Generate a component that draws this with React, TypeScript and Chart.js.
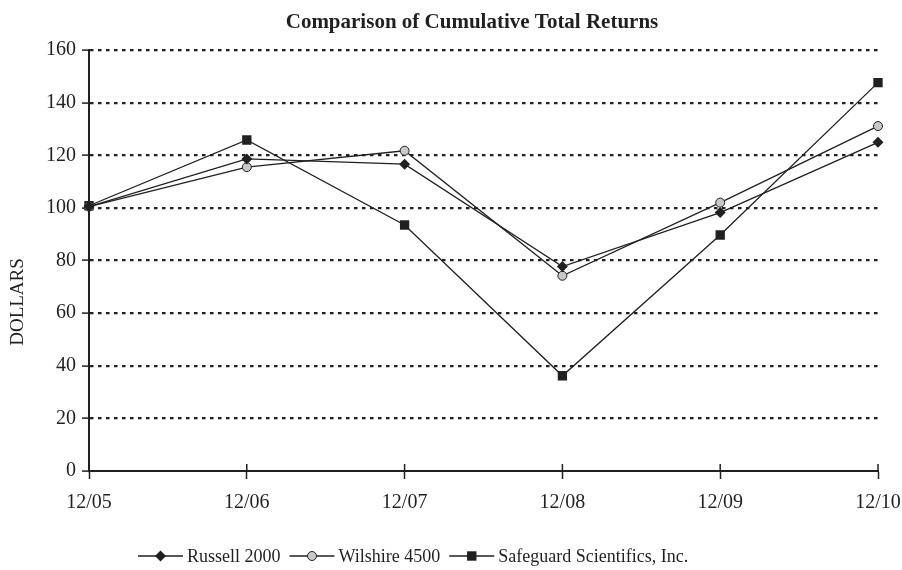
import React, { useEffect, useRef } from "react";
import { Chart, registerables } from "chart.js";

Chart.register(...registerables);

const TITLE = "Comparison of Cumulative Total Returns";
const Y_LABEL = "DOLLARS";
const CATEGORIES = ["12/05", "12/06", "12/07", "12/08", "12/09", "12/10"];
const RUSSELL = [100.5, 118.6, 116.6, 77.7, 98.2, 124.9];
const WILSHIRE = [100.5, 115.5, 121.7, 74.2, 102.0, 131.1];
const SAFEGUARD = [100.8, 125.8, 93.5, 36.2, 89.7, 147.6];
const SERIES_NAMES = ["Russell 2000", "Wilshire 4500", "Safeguard Scientifics, Inc."];
const Y_MIN = 0;
const Y_MAX = 160;
const Y_STEP = 20;

const FONT = '"Liberation Serif", "Times New Roman", serif';
const INK = "#231f20";

function drawMarker(ctx: CanvasRenderingContext2D, style: string, x: number, y: number, fill: string) {
  ctx.save();
  ctx.fillStyle = fill;
  ctx.strokeStyle = INK;
  ctx.lineWidth = 1;
  ctx.beginPath();
  if (style === "rectRot") {
    const r = 5.5;
    ctx.moveTo(x, y - r);
    ctx.lineTo(x + r, y);
    ctx.lineTo(x, y + r);
    ctx.lineTo(x - r, y);
    ctx.closePath();
    ctx.fill();
  } else if (style === "circle") {
    ctx.arc(x, y, 4.5, 0, Math.PI * 2);
    ctx.fill();
    ctx.stroke();
  } else {
    const h = 4.7;
    ctx.rect(x - h, y - h, 2 * h, 2 * h);
    ctx.fill();
  }
  ctx.restore();
}

const decorPlugin = {
  id: "decor",
  afterDraw(chart: any) {
    const ctx: CanvasRenderingContext2D = chart.ctx;
    const area = chart.chartArea;
    const xs = chart.scales.x;
    // upward tick marks on x axis
    ctx.save();
    ctx.strokeStyle = INK;
    ctx.lineWidth = 1.5;
    for (let i = 0; i < CATEGORIES.length; i++) {
      const px = xs.getPixelForTick(i);
      ctx.beginPath();
      ctx.moveTo(px, area.bottom - 7);
      ctx.lineTo(px, area.bottom);
      ctx.stroke();
    }
    ctx.restore();

    // title
    ctx.save();
    ctx.fillStyle = INK;
    ctx.font = `bold 21px ${FONT}`;
    ctx.textAlign = "center";
    ctx.textBaseline = "alphabetic";
    ctx.fillText(TITLE, 472, 28);
    ctx.restore();

    // y label
    ctx.save();
    ctx.fillStyle = INK;
    ctx.font = `19px ${FONT}`;
    ctx.translate(18, 302);
    ctx.rotate(-Math.PI / 2);
    ctx.textAlign = "center";
    ctx.textBaseline = "middle";
    ctx.fillText(Y_LABEL, 0, 0);
    ctx.restore();

    // legend
    ctx.save();
    ctx.font = `18px ${FONT}`;
    ctx.textBaseline = "middle";
    ctx.fillStyle = INK;
    const ly = 556;
    const lineLen = 45;
    let x = 138;
    chart.data.datasets.forEach((ds: any) => {
      ctx.strokeStyle = INK;
      ctx.lineWidth = 1.3;
      ctx.beginPath();
      ctx.moveTo(x, ly);
      ctx.lineTo(x + lineLen, ly);
      ctx.stroke();
      drawMarker(ctx, ds.pointStyle, x + lineLen / 2, ly, ds.pointBackgroundColor);
      x += lineLen + 4;
      ctx.fillStyle = INK;
      ctx.fillText(ds.label, x, ly + 1);
      x += ctx.measureText(ds.label).width + 9;
    });
    ctx.restore();
  },
};

export default function App() {
  const ref = useRef<HTMLCanvasElement | null>(null);
  useEffect(() => {
    if (!ref.current) return;
    const mk = (label: string, data: number[], style: string, fill: string, radius: number) => ({
      label,
      data,
      borderColor: INK,
      borderWidth: 1.3,
      pointStyle: style,
      pointRadius: radius,
      pointBackgroundColor: fill,
      pointBorderColor: INK,
      pointBorderWidth: style === "circle" ? 1 : 0,
      tension: 0,
    });
    const chart = new Chart(ref.current, {
      type: "line",
      data: {
        labels: CATEGORIES,
        datasets: [
          mk(SERIES_NAMES[0], RUSSELL, "rectRot", INK, 5.5),
          mk(SERIES_NAMES[1], WILSHIRE, "circle", "#c8c8c8", 4.5),
          mk(SERIES_NAMES[2], SAFEGUARD, "rect", INK, 6.6),
        ],
      },
      options: {
        animation: false,
        responsive: false,
        maintainAspectRatio: false,
        layout: { padding: { top: 50, right: 24, left: 0, bottom: 0 } },
        plugins: { legend: { display: false }, title: { display: false }, tooltip: { enabled: false } },
        scales: {
          x: {
            offset: false,
            afterFit: (s: any) => { s.height = 99; s.paddingLeft = 0; s.paddingRight = 0; },
            grid: { display: true, drawOnChartArea: false, drawTicks: true, tickLength: 8, tickColor: INK, tickWidth: 1.5 },
            border: { display: true, color: INK, width: 2 },
            ticks: { color: INK, font: { family: FONT, size: 20 }, padding: 12, maxRotation: 0 },
          },
          y: {
            min: Y_MIN,
            max: Y_MAX,
            afterFit: (s: any) => { s.width = 89; s.paddingTop = 0; s.paddingBottom = 0; },
            grid: {
              display: true,
              drawOnChartArea: true,
              color: (c: any) => (c.tick && c.tick.value === 0 ? "rgba(0,0,0,0)" : INK),
              lineWidth: 2.2,
              drawTicks: true,
              tickLength: 7,
              tickColor: INK,
              tickWidth: 1.5,
            },
            border: { display: true, color: INK, width: 2, dash: [3.5, 4.5] },
            ticks: { stepSize: Y_STEP, color: INK, font: { family: FONT, size: 20 }, padding: 6 },
          },
        },
      },
      plugins: [decorPlugin],
    });
    return () => chart.destroy();
  }, []);
  return (
    <div style={{ position: "fixed", left: 0, top: 0, width: 902, height: 570, background: "#fff" }}>
      <canvas ref={ref} width={902} height={570} style={{ width: 902, height: 570 }} />
    </div>
  );
}
